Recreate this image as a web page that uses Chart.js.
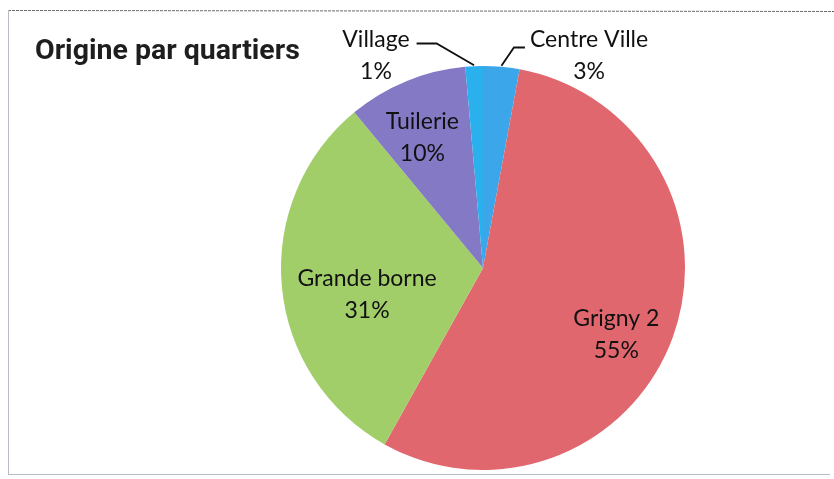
<!DOCTYPE html>
<html>
<head>
<meta charset="utf-8">
<script src="https://cdn.jsdelivr.net/npm/chart.js@4.4.1/dist/chart.umd.min.js"></script>
<style>
  html, body { margin: 0; padding: 0; background: #fff; }
  #wrap { width: 834px; height: 479px; position: relative; }
</style>
</head>
<body>
<div id="wrap"><canvas id="pieChart" width="834" height="479"></canvas></div>
<script>
// data (slice order = clockwise from 12 o'clock, like excel)
const quartiers = ["Centre Ville", "Grigny 2", "Grande borne", "Tuilerie", "Village"];
const parts = [2.9, 55.2, 30.9, 9.6, 1.4];
const couleurs = ["#3ca6ea", "#e1676e", "#a2ce6a", "#8479c4", "#2bb0ee"];
const titre = "Origine par quartiers";

// where each label sits, relative to the pie centre in radius units
const labelPlace = {
  "Grigny 2": { dx: 0.66, dy: 0.33 },
  "Grande borne": { dx: -0.574, dy: 0.131 },
  "Tuilerie": { dx: -0.30, dy: -0.644 },
  "Village": { dx: -0.53, dy: -1.052, outside: "left" },
  "Centre Ville": { dx: 0.525, dy: -1.052, outside: "right" }
};

const total = parts.reduce((a, b) => a + b, 0);

const decorPlugin = {
  id: "decor",
  beforeDraw(chart) {
    const ctx = chart.ctx;
    ctx.save();
    ctx.fillStyle = "#fff";
    ctx.fillRect(0, 0, chart.width, chart.height);
    // scanned frame
    ctx.lineWidth = 1;
    ctx.strokeStyle = "#6a6a6a";
    ctx.setLineDash([3, 1]);
    ctx.beginPath();
    ctx.moveTo(8, 10.5); ctx.lineTo(chart.width, 11.5);
    ctx.stroke();
    ctx.strokeStyle = "#b9bcc4";
    ctx.setLineDash([]);
    ctx.beginPath();
    ctx.moveTo(8.5, 10); ctx.lineTo(8.5, 475);
    ctx.moveTo(8, 474.5); ctx.lineTo(chart.width - 4, 474.5);
    ctx.stroke();
    ctx.restore();
  },
  afterDatasetsDraw(chart) {
    const ctx = chart.ctx;
    const meta = chart.getDatasetMeta(0);
    ctx.save();
    // title
    ctx.fillStyle = "#1e1e1e";
    ctx.font = "bold 28.5px Roboto";
    ctx.textAlign = "left";
    ctx.textBaseline = "alphabetic";
    ctx.fillText(titre, 35, 59);

    ctx.font = "23px Lato";
    ctx.textAlign = "center";
    ctx.textBaseline = "middle";
    meta.data.forEach((arc, i) => {
      const name = quartiers[i];
      const p = labelPlace[name];
      const r = arc.outerRadius;
      const cx = arc.x + p.dx * r;
      const cy = arc.y + p.dy * r;
      const pct = Math.round(parts[i] / total * 100) + "%";
      ctx.fillStyle = "#111";
      ctx.fillText(name, cx, cy - 16);
      ctx.fillText(pct, cx, cy + 16);

      if (p.outside) {
        const mid = (arc.startAngle + arc.endAngle) / 2;
        const ex = arc.x + Math.cos(mid) * (r + 1);
        const ey = arc.y + Math.sin(mid) * (r + 1);
        const w = ctx.measureText(name).width;
        const ly = cy - 16 + (p.outside === "left" ? 4 : 8);
        ctx.strokeStyle = "#111";
        ctx.lineWidth = 1.8;
        ctx.beginPath();
        if (p.outside === "left") {
          const x0 = cx + w / 2 + 7;
          ctx.moveTo(x0, ly);
          ctx.lineTo(x0 + 20, ly);
        } else {
          const x0 = cx - w / 2 - 5;
          ctx.moveTo(x0, ly);
          ctx.lineTo(x0 - 11, ly);
        }
        ctx.lineTo(ex, ey);
        ctx.stroke();
      }
    });
    ctx.restore();
  }
};

new Chart(document.getElementById("pieChart"), {
  type: "pie",
  data: {
    labels: quartiers,
    datasets: [{
      data: parts,
      backgroundColor: couleurs,
      borderWidth: 0
    }]
  },
  options: {
    responsive: false,
    animation: false,
    layout: { padding: { top: 66, bottom: 9, left: 200, right: 68 } },
    plugins: {
      legend: { display: false },
      tooltip: { enabled: false }
    }
  },
  plugins: [decorPlugin]
});
</script>
</body>
</html>
